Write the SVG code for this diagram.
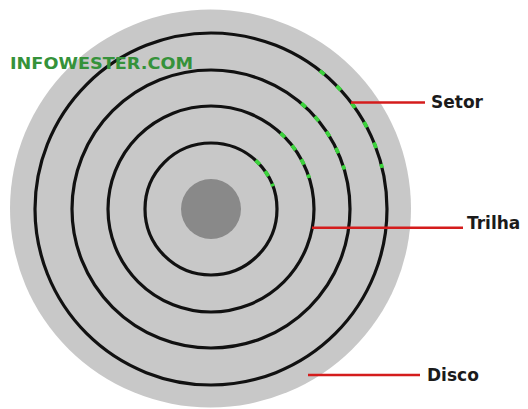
<svg xmlns="http://www.w3.org/2000/svg" width="528" height="409" viewBox="0 0 528 409">
<style>
.track{fill:none;stroke:#111;stroke-width:3.2}
.sector{fill:none;stroke:#3bd23b;stroke-width:3.8}
.lead{stroke:#d41c1c;stroke-width:2.6;fill:none}
.lbl{font-family:"DejaVu Sans",Verdana,sans-serif;font-weight:bold;font-size:17px;fill:#1b1b1b}
.wm{font-family:"DejaVu Sans",Verdana,sans-serif;font-weight:bold;font-size:16px;fill:#35923a}
</style>
<rect width="528" height="409" fill="#fff"/>
<g id="disco">
<ellipse cx="210.5" cy="208.5" rx="200.5" ry="199" fill="#c8c8c8"/>
</g>
<g id="hub">
<circle cx="211" cy="209" r="30" fill="#898989"/>
</g>
<g id="trilhas">
<circle class="track" cx="211" cy="209" r="66"/>
<circle class="track" cx="211" cy="209" r="103"/>
<circle class="track" cx="211" cy="209" r="139"/>
<circle class="track" cx="211" cy="209" r="176"/>
</g>
<g id="setores">
<path class="sector" stroke-dasharray="6 8.4" d="M255.6,160.3 A66,66 0 0 1 273,186.4"/>
<path class="sector" stroke-dasharray="6 10.7" d="M280.6,133.1 A103,103 0 0 1 309.2,178"/>
<path class="sector" stroke-dasharray="6 12.9" d="M301.3,103.3 A139,139 0 0 1 344.3,169.5"/>
<path class="sector" stroke-dasharray="6 16.7" d="M319.8,70.7 A176,176 0 0 1 382.1,167.9"/>
</g>
<g id="connectors">
<line class="lead" x1="351" y1="102.5" x2="425" y2="102.5"/>
<line class="lead" x1="312" y1="227.7" x2="463" y2="227.7"/>
<line class="lead" x1="308" y1="375" x2="420" y2="375"/>
</g>
<g id="label-setor"><text class="lbl" x="431" y="107.5">Setor</text></g>
<g id="label-trilha"><text class="lbl" x="467" y="229">Trilha</text></g>
<g id="label-disco"><text class="lbl" x="427" y="380.5">Disco</text></g>
<g id="watermark"><text class="wm" x="10" y="68.5" textLength="183" lengthAdjust="spacingAndGlyphs">INFOWESTER.COM</text></g>
</svg>
